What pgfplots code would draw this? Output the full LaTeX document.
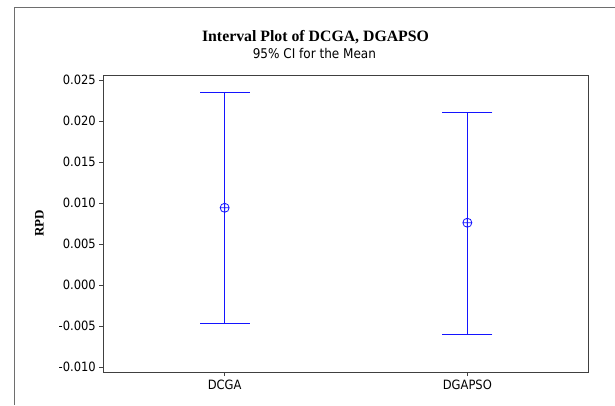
\documentclass[border=0pt]{standalone}
\usepackage{fontspec}
\setmainfont{Liberation Serif}
\newfontfamily\tah{DejaVu Sans Condensed}
\usepackage{pgfplots}
\pgfplotsset{compat=1.18}
\definecolor{ciblue}{RGB}{20,20,255}
\definecolor{axgray}{RGB}{64,64,64}
\definecolor{framegray}{RGB}{110,110,110}
\begin{document}
\begin{tikzpicture}[x=1pt,y=1pt]
\useasboundingbox (0,0) rectangle (615,405);
\fill[white] (0,0) rectangle (615,405);
\draw[framegray, line width=1pt] (14,0) -- (14,397.7) -- (615,397.7);
\node[anchor=base, font=\fontsize{15.8}{18}\selectfont\bfseries] at (315.5,405-41.7) {Interval Plot of DCGA, DGAPSO};
\node[anchor=base, font=\tah\fontsize{13.4}{15}\selectfont] at (314.4,405-58.5) {95\% CI for the Mean};
\begin{axis}[
  at={(103.3pt,33pt)}, anchor=south west,
  scale only axis, width=485.4pt, height=297pt,
  xmin=0.5, xmax=2.5,
  ymin=-0.01057, ymax=0.0256,
  xtick={1,2}, xticklabels={DCGA,DGAPSO},
  ytick={-0.01,-0.005,0,0.005,0.01,0.015,0.02,0.025},
  yticklabels={-0.010,-0.005,0.000,0.005,0.010,0.015,0.020,0.025},
  scaled y ticks=false,
  xtick pos=bottom, ytick pos=left,
  tick align=outside, major tick length=4pt,
  tick style={axgray, line width=0.8pt},
  axis line style={axgray, line width=0.9pt},
  ticklabel style={font=\tah\fontsize{12.8}{14}\selectfont},
  ylabel={\bfseries RPD},
  every axis y label/.style={at={(axis description cs:0,0.5)}, xshift=-64pt, rotate=90, anchor=center, font=\fontsize{13}{15}\selectfont},
]
% intervals (lower, upper) for DCGA and DGAPSO
\addplot[draw=ciblue, color=ciblue, line width=0.9pt, mark=none] coordinates {(1,-0.00463) (1,0.02349)};
\addplot[draw=ciblue, color=ciblue, line width=0.9pt, mark=none] coordinates {(2,-0.00602) (2,0.02103)};
% caps
\addplot[draw=ciblue, color=ciblue, only marks, mark=-, mark size=25pt, mark options={draw=ciblue, line width=0.8pt}]
  coordinates {(1,-0.00463) (1,0.02349) (2,-0.00602) (2,0.02103)};
% means
\addplot[draw=ciblue, color=ciblue, only marks, mark=oplus, mark size=4.5pt, mark options={draw=ciblue, fill=white, line width=0.8pt}]
  coordinates {(1,0.00943) (2,0.00761)};
\end{axis}
\end{tikzpicture}
\end{document}
